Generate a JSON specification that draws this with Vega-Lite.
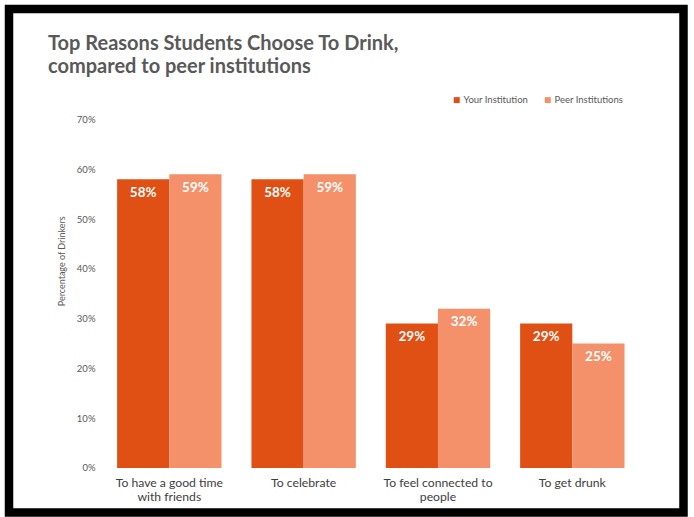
{
  "$schema": "https://vega.github.io/schema/vega-lite/v6.json",
  "autosize": {"type": "none"},
  "width": 674.5,
  "height": 503.5,
  "padding": {"left": 9, "top": 9, "right": 10.5, "bottom": 4.5},
  "background": "white",
  "config": {
    "view": {"stroke": "black", "strokeWidth": 8.5},
    "font": "Lato"
  },
  "title": {
    "text": ["Top Reasons Students Choose To Drink,", "compared to peer institutions"],
    "orient": "top",
    "anchor": "start",
    "frame": "group",
    "offset": -68,
    "dx": 39,
    "font": "Lato",
    "fontSize": 20,
    "fontWeight": "bold",
    "color": "#595959",
    "lineHeight": 23
  },
  "data": {
    "values": [
      {"reason": "To have a good time with friends", "group": "Your Institution", "pct": 0.58},
      {"reason": "To have a good time with friends", "group": "Peer Institutions", "pct": 0.59},
      {"reason": "To celebrate", "group": "Your Institution", "pct": 0.58},
      {"reason": "To celebrate", "group": "Peer Institutions", "pct": 0.59},
      {"reason": "To feel connected to people", "group": "Your Institution", "pct": 0.29},
      {"reason": "To feel connected to people", "group": "Peer Institutions", "pct": 0.32},
      {"reason": "To get drunk", "group": "Your Institution", "pct": 0.29},
      {"reason": "To get drunk", "group": "Peer Institutions", "pct": 0.25}
    ]
  },
  "encoding": {
    "x": {
      "field": "reason",
      "type": "nominal",
      "sort": null,
      "title": null,
      "scale": {"paddingInner": 0.223, "paddingOuter": 0.622, "align": 0.647},
      "axis": {
        "orient": "bottom",
        "offset": -44.5,
        "domain": false,
        "ticks": false,
        "grid": false,
        "labelAngle": 0,
        "labelPadding": 8,
        "labelFontSize": 12.2,
        "labelColor": "#404040",
        "labelLineHeight": 14,
        "labelExpr": "datum.value == 'To have a good time with friends' ? ['To have a good time', 'with friends'] : datum.value == 'To feel connected to people' ? ['To feel connected to', 'people'] : datum.value"
      }
    },
    "xOffset": {"field": "group", "sort": ["Your Institution", "Peer Institutions"]},
    "y": {
      "field": "pct",
      "type": "quantitative",
      "scale": {"domain": [-0.0894, 0.9219], "nice": false},
      "axis": {
        "offset": -88,
        "values": [0, 0.1, 0.2, 0.3, 0.4, 0.5, 0.6, 0.7],
        "format": ".0%",
        "domain": false,
        "ticks": false,
        "grid": false,
        "labelPadding": 2,
        "labelFontSize": 9.5,
        "labelColor": "#595959",
        "title": "Percentage of Drinkers",
        "titleFontSize": 9,
        "titleFontWeight": "normal",
        "titleColor": "#595959",
        "titlePadding": 10
      }
    }
  },
  "layer": [
    {
      "mark": {"type": "bar"},
      "encoding": {
        "color": {
          "field": "group",
          "type": "nominal",
          "scale": {"domain": ["Your Institution", "Peer Institutions"], "range": ["#E04F14", "#F4916A"]},
          "legend": {
            "orient": "none",
            "legendX": 443,
            "legendY": 86,
            "direction": "horizontal",
            "title": null,
            "symbolType": "square",
            "symbolSize": 36,
            "symbolStrokeWidth": 0,
            "labelFontSize": 9.5,
            "labelColor": "#595959",
            "columnPadding": 14,
            "labelOffset": 2,
            "padding": 0
          }
        }
      }
    },
    {
      "mark": {"type": "text", "baseline": "top", "dy": 6.5, "color": "white", "fontWeight": "bold", "fontSize": 13.5},
      "encoding": {
        "text": {"field": "pct", "type": "quantitative", "format": ".0%"}
      }
    }
  ]
}
